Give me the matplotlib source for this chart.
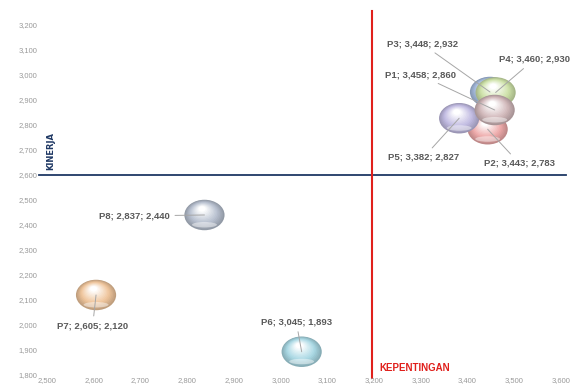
import numpy as np
import matplotlib
matplotlib.use("Agg")
import matplotlib.pyplot as plt
from matplotlib.patches import Ellipse
from matplotlib.colors import to_rgb

# Data
names = ["P3", "P4", "P2", "P5", "P1", "P6", "P7", "P8"]
kepentingan = [3448, 3460, 3443, 3382, 3458, 3045, 2605, 2837]
kinerja = [2932, 2930, 2783, 2827, 2860, 1893, 2120, 2440]
colors = ["#a8bee0", "#cfe3aa", "#eeaaaa", "#c2bce2", "#d2b9bb",
          "#a9d8e4", "#efc59c", "#b7c0cf"]
# label offsets (pixels) and alignment
offsets = [(-32, 48), (3, 33), (-4, -34), (-71, -39), (-39, 35),
           (-41, 30), (-39, -31), (-35, -1)]
aligns = ["right", "left", "left", "left", "right", "left", "left", "right"]

x_ticks = np.arange(2500, 3601, 100)
y_ticks = np.arange(1800, 3201, 100)
x_cut = 3195   # garis kepentingan
y_cut = 2600   # garis kinerja

fig = plt.figure(figsize=(5.75, 3.9), dpi=100)
ax = fig.add_axes([0.0817, 0.0385, 0.8940, 0.8974])
ax.set_xlim(2500, 3600)
ax.set_ylim(1800, 3200)
for s in ax.spines.values():
    s.set_visible(False)
ax.set_xticks(x_ticks)
ax.set_yticks(y_ticks)
ax.set_xticklabels([f"{v:,}" for v in x_ticks])
ax.set_yticklabels([f"{v:,}" for v in y_ticks])
ax.tick_params(length=0, labelsize=5.5, labelcolor="#9a9a9a")
ax.tick_params(axis="y", pad=7)
ax.tick_params(axis="x", pad=1.5)
for t in ax.get_xticklabels() + ax.get_yticklabels():
    t.set_family("Liberation Sans")

# quadrant lines
ax.axhline(y_cut, xmin=-0.015, xmax=1.01, color="#1f3864", lw=1.3, clip_on=False, zorder=1)
ax.axvline(x_cut, ymin=-0.01, ymax=1.04, color="#e0201c", lw=1.5, clip_on=False, zorder=1)
ax.text(2508, y_cut + 18, "KINERJA", rotation=90, color="#1f3864", fontsize=6,
        fontweight="bold", family="Liberation Sans Narrow", ha="center", va="bottom")
ax.text(x_cut + 16, 1808, "KEPENTINGAN", color="#e0201c", fontsize=7,
        fontweight="bold", family="Liberation Sans", ha="left", va="bottom")

# bubble size in data units (approx 40x30 px)
bw, bh = 86, 122


def draw_bubble(x, y, col, z):
    base = np.array(to_rgb(col))
    dark = base * 0.8
    n = 14
    for i in range(n):
        f = i / (n - 1)
        sc = 1 - 0.82 * f
        if f < 0.35:
            c = dark * (1 - f / 0.35) + base * (f / 0.35)
        else:
            g = (f - 0.35) / 0.65
            c = base * (1 - g) + np.ones(3) * g
        ax.add_patch(Ellipse((x - 0.06 * bw * f, y + 0.2 * bh * f), bw * sc, bh * sc,
                             facecolor=np.clip(c, 0, 1), edgecolor="none", zorder=z + i * 0.01))
    # bottom rim reflection
    ax.add_patch(Ellipse((x, y - 0.32 * bh), bw * 0.62, bh * 0.18,
                         facecolor="white", alpha=0.45, edgecolor="none", zorder=z + 0.2))


for i, (nm, xv, yv, col) in enumerate(zip(names, kepentingan, kinerja, colors)):
    draw_bubble(xv, yv, col, 3 + i)

for nm, xv, yv, off, al in zip(names, kepentingan, kinerja, offsets, aligns):
    ax.annotate(f"{nm}; {xv:,}; {yv:,}", xy=(xv, yv), xytext=off,
                textcoords="offset pixels", ha=al, va="center",
                fontsize=6.8, fontweight="bold", color="#595959",
                family="Liberation Sans", zorder=20,
                arrowprops=dict(arrowstyle="-", color="#a6a6a6", lw=0.7,
                                shrinkA=2, shrinkB=0))

fig.savefig("out.png", dpi=100)
